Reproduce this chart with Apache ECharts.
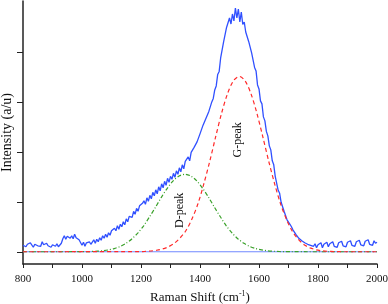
<!DOCTYPE html>
<html>
<head>
<meta charset="utf-8">
<script src="https://cdn.jsdelivr.net/npm/echarts@6/dist/echarts.min.js"></script>
<style>
html,body{margin:0;padding:0;background:#fff;}
#chart{width:388px;height:304px;}
</style>
</head>
<body>
<div id="chart"></div>
<script>
// Raman spectrum sampling grid (cm-1)
const shiftStart = 800;
const shiftStep = 5;
// Measured intensity (a/u), one value per grid point 800..2000
const intensity = [
0.13,0.17,0.10,0.15,0.12,0.18,0.14,0.09,0.15,0.19,0.12,0.16,0.11,0.20,0.14,0.10,0.17,0.12,0.15,0.09,0.14,0.18,0.11,0.16,0.10,0.13,0.17,
0.26,0.32,0.25,0.31,0.34,0.27,0.32,0.26,0.35,0.28,0.31,0.24,
0.21,0.13,0.19,0.11,0.18,0.14,0.20,0.15,
0.19,0.24,0.17,0.25,0.20,0.28,0.23,0.32,0.27,0.35,0.29,0.38,0.33,0.42,
0.38,0.47,0.42,0.52,0.45,0.55,0.50,0.60,0.54,0.66,0.60,0.71,0.74,0.69,0.81,0.75,0.87,0.81,0.92,0.89,
0.97,1.02,0.95,1.08,1.01,1.13,1.06,1.19,1.12,1.24,1.16,1.30,1.22,1.36,1.28,1.41,1.33,1.47,1.39,1.51,
1.45,1.57,1.49,1.62,1.55,1.68,1.60,1.74,1.66,1.81,1.77,1.90,1.82,1.99,1.95,2.09,2.06,2.20,2.18,2.36,
2.34,2.53,2.50,2.67,2.64,2.81,2.84,3.00,3.07,3.24,3.32,3.55,3.61,3.88,3.92,4.20,4.24,4.49,4.47,4.68,
4.56,4.76,4.62,4.88,4.68,4.86,4.60,4.80,4.55,4.60,4.40,4.40,4.21,4.20,3.98,3.94,3.69,3.62,3.34,3.26,
3.02,2.96,2.70,2.62,2.41,2.32,2.12,2.04,1.82,1.74,1.51,1.47,1.23,1.17,0.99,0.96,0.81,0.79,0.64,0.64,
0.55,0.50,0.44,0.41,0.35,0.33,0.27,0.28,0.22,0.24,0.18,0.21,0.15,0.19,0.13,0.17,0.11,0.16,0.08,0.14,
0.10,0.18,0.08,0.15,0.12,0.19,0.10,0.16,0.13,0.20,0.11,0.15,0.09,0.18,0.14,0.21,0.12,0.16,0.10,0.19,
0.15,0.22,0.13,0.17,0.11,0.20,0.16,0.23,0.14,0.18,0.12,0.21,0.17,0.24,0.15,0.19,0.13,0.22,0.17,0.19
];
// Fitted D-peak (green dash-dot)
const dPeakShift = [800,989,1009,1029,1049,1069,1089,1109,1129,1149,1169,1189,1209,1229,1249,1269,1289,1309,1329,1349,1369,1389,1409,1429,1449,1469,1489,1509,1529,1549,1569,1589,1609,1629,1649,1669,1689,1709,2000];
const dPeakIntensity = [0,0.001,0.002,0.005,0.011,0.02,0.037,0.064,0.106,0.169,0.257,0.375,0.52,0.70,0.89,1.09,1.27,1.42,1.516,1.55,1.516,1.42,1.27,1.09,0.89,0.70,0.52,0.375,0.257,0.169,0.106,0.064,0.037,0.02,0.011,0.005,0.002,0.001,0];
// Fitted G-peak (red dashed)
const gPeakShift = [800,1193,1213,1233,1253,1273,1293,1313,1333,1353,1373,1393,1413,1433,1453,1473,1493,1513,1533,1553,1573,1593,1613,1633,1653,1673,1693,1713,1733,1753,1773,1793,1813,1833,1853,1873,2000];
const gPeakIntensity = [0,0.003,0.007,0.015,0.03,0.055,0.10,0.17,0.28,0.43,0.66,0.96,1.36,1.81,2.30,2.77,3.16,3.42,3.51,3.42,3.16,2.77,2.30,1.81,1.36,0.96,0.65,0.41,0.25,0.14,0.078,0.04,0.02,0.009,0.004,0.001,0];
// Baseline
const baselineShift = [800,2000];
const baselineIntensity = [0,0];
// Axis ticks
const yTickValues = [0,1,2,3,4];
// Peak annotations
const peakLabels = ['D-peak','G-peak'];
const peakLabelAt = [[1332,0.83],[1529,2.24]];

const zip = (xs, ys) => xs.map((x, i) => [x, ys[i]]);
const spectrum = intensity.map((v, i) => [shiftStart + i * shiftStep, v]);

const FONT = 'Liberation Serif';
const chart = echarts.init(document.getElementById('chart'), null, {renderer:'canvas'});
chart.setOption({
  animation: false,
  backgroundColor: '#fff',
  grid: {left: 23, right: 11, top: 1, bottom: 40, containLabel: false, outerBoundsMode: 'none'},
  xAxis: {
    type: 'value', min: 800, max: 2000, interval: 100,
    name: '{t|Raman Shift (cm}{s|-1}{t|)}',
    nameLocation: 'middle', nameGap: 22,
    nameTextStyle: {
      rich: {
        t: {fontFamily: FONT, fontSize: 13, color: '#111', lineHeight: 16},
        s: {fontFamily: FONT, fontSize: 8, color: '#111', verticalAlign: 'top', lineHeight: 10}
      }
    },
    axisLine: {show: true, onZero: false, lineStyle: {color: '#222', width: 1.5}},
    axisTick: {show: true, inside: false, length: 4, lineStyle: {color: '#222', width: 1}},
    axisLabel: {
      fontFamily: FONT, fontSize: 11, color: '#111', margin: 10,
      formatter: v => (v % 200 === 0 ? String(v) : '')
    },
    splitLine: {show: false}
  },
  yAxis: {
    type: 'value', min: -0.245, max: 5.02,
    name: 'Intensity (a/u)',
    nameLocation: 'middle', nameGap: 9,
    nameTextStyle: {fontFamily: FONT, fontSize: 14, color: '#111'},
    axisLine: {show: true, onZero: false, lineStyle: {color: '#222', width: 1.5}},
    axisTick: {show: true, inside: false, length: 6, customValues: yTickValues, lineStyle: {color: '#222', width: 1}},
    axisLabel: {show: false, customValues: yTickValues},
    splitLine: {show: false}
  },
  series: [
    {
      name: 'baseline', type: 'line', data: zip(baselineShift, baselineIntensity),
      showSymbol: false, symbol: 'none', silent: true,
      lineStyle: {color: '#7088ff', width: 1}
    },
    {
      name: 'spectrum', type: 'line', data: spectrum,
      showSymbol: false, symbol: 'none',
      lineStyle: {color: '#3050ff', width: 1.3}
    },
    {
      name: 'D-peak', type: 'line', data: zip(dPeakShift, dPeakIntensity),
      showSymbol: false, symbol: 'none', smooth: 0.3,
      lineStyle: {color: '#3aa12a', width: 1.2, type: [4, 2, 1, 2]},
      markPoint: {
        symbol: 'circle', symbolSize: 0,
        label: {show: true, rotate: 90, fontFamily: FONT, fontSize: 12, color: '#111', formatter: p => p.name},
        data: [{name: peakLabels[0], coord: peakLabelAt[0]}]
      }
    },
    {
      name: 'G-peak', type: 'line', data: zip(gPeakShift, gPeakIntensity),
      showSymbol: false, symbol: 'none', smooth: 0.3,
      lineStyle: {color: '#ff2a2a', width: 1.2, type: [4, 3]},
      markPoint: {
        symbol: 'circle', symbolSize: 0,
        label: {show: true, rotate: 90, fontFamily: FONT, fontSize: 12, color: '#111', formatter: p => p.name},
        data: [{name: peakLabels[1], coord: peakLabelAt[1]}]
      }
    }
  ]
});
</script>
</body>
</html>
